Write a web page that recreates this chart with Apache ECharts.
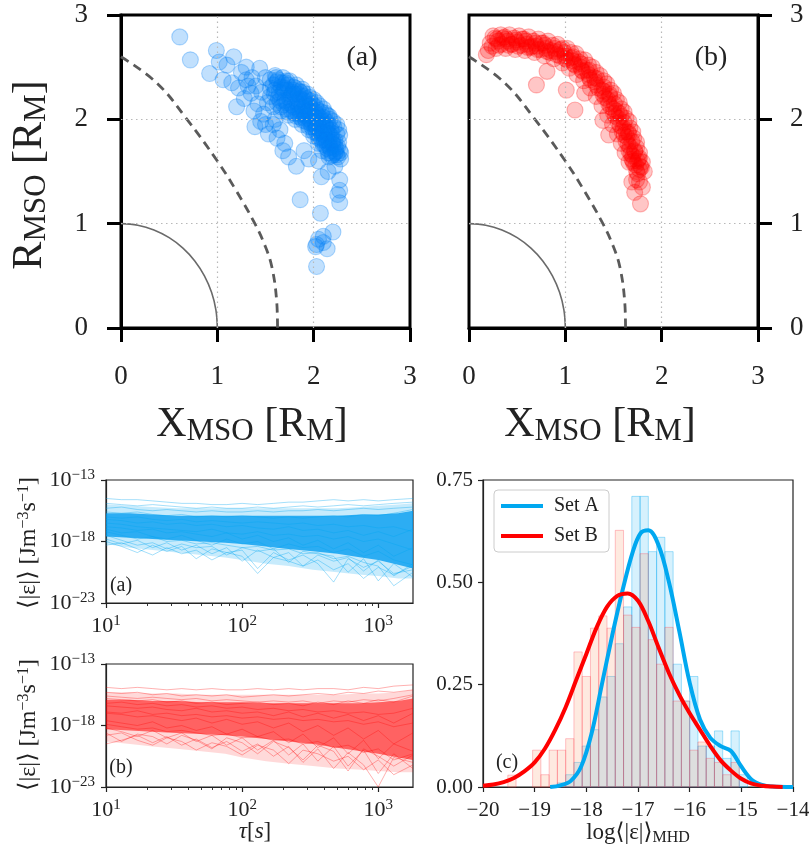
<!DOCTYPE html>
<html><head><meta charset="utf-8">
<script src="https://cdn.jsdelivr.net/npm/echarts@6/dist/echarts.min.js"></script>
<style>html,body{margin:0;padding:0;background:#fff}#c{width:809px;height:852px}</style>
</head><body><div id="c"></div>
<script>
// ---------------- DATA ----------------
// top panels: spacecraft positions (X_MSO, R_MSO)
const setA = [
[0.61,2.79],[0.72,2.57],[0.92,2.44],[0.99,2.66],[1.06,2.38],[1.17,2.60],[1.10,2.52],[1.02,2.55],
[1.25,2.45],[1.30,2.50],[1.44,2.49],[1.36,2.40],[1.20,2.12],[1.28,2.20],[1.22,2.30],[1.35,2.25],
[1.42,2.15],[1.39,1.93],[1.48,2.05],[1.53,1.86],[1.60,2.00],[1.65,1.90],[1.70,1.77],[1.74,1.64],
[1.82,1.55],[1.86,1.23],[2.08,1.45],[2.07,1.10],[2.03,0.80],[2.10,0.82],[2.14,0.76],[2.03,0.59],
[2.20,0.92],[2.27,1.20],[2.27,1.32],[2.27,1.42],[2.25,1.28],[2.22,1.55],[2.15,1.50],[2.05,1.60],
[1.95,1.62],[1.90,1.70],[1.55,2.30],[1.50,2.40],[1.15,2.35],[1.32,2.32],[2.05,0.85],[2.10,0.88],[2.02,0.78],
[1.40,2.32],[1.46,2.26],[1.52,2.16],[1.45,1.98],[1.58,1.95],[1.62,1.82],[1.68,1.70],[1.30,2.38],[1.38,2.08],[1.50,1.95],
[1.60,2.42],[1.68,2.40],[1.75,2.37],[1.82,2.33],[1.88,2.29],[1.94,2.24],[2.00,2.19],[2.06,2.13],[2.12,2.06],[2.17,2.00],[2.21,1.93],[2.24,1.86],[2.26,1.78],[2.27,1.70],[2.28,1.62],
[1.58,2.33],[1.66,2.31],[1.73,2.28],[1.80,2.24],[1.86,2.20],[1.92,2.15],[1.98,2.10],[2.04,2.04],[2.09,1.98],[2.14,1.91],[2.18,1.84],[2.20,1.76],[2.22,1.68],
[1.55,2.22],[1.63,2.21],[1.70,2.18],[1.77,2.14],[1.84,2.10],[1.90,2.05],[1.96,2.00],[2.02,1.94],[2.07,1.88],[2.11,1.80],[2.14,1.72],[2.16,1.64],
[1.58,2.12],[1.66,2.08],[1.74,2.04],[1.81,2.00],[1.88,1.95],[1.95,1.90],[2.00,1.84],[2.05,1.77],[2.09,1.70],
[1.70,2.30],[1.78,2.26],[1.85,2.27],[1.90,2.22],[1.96,2.18],[2.02,2.12],[2.08,2.07],[2.13,1.98],[2.18,1.90],[2.22,1.80],
[1.75,2.20],[1.82,2.17],[1.88,2.12],[1.94,2.08],[2.00,2.03],[2.05,1.96],[2.10,1.88],[2.16,1.78],
[1.72,2.10],[1.80,2.06],[1.86,2.02],[1.92,1.98],[1.98,1.93],[2.03,1.87],[2.08,1.80],[1.64,2.26],[1.62,2.36],[1.55,2.38],
[1.63,2.38],[1.71,2.35],[1.79,2.31],[1.86,2.26],[1.92,2.20],[1.98,2.15],[2.04,2.09],[2.10,2.02],[2.15,1.95],[2.19,1.87],[2.22,1.75],[2.24,1.66],
[1.60,2.28],[1.68,2.25],[1.76,2.22],[1.83,2.15],[1.89,2.10],[1.95,2.04],[2.01,1.98],[2.06,1.92],[2.11,1.85],[2.14,1.77],[2.18,1.70],
[1.62,2.16],[1.69,2.14],[1.77,2.08],[1.84,2.05],[1.91,2.01],[1.97,1.96],[2.02,1.90],[2.06,1.83],[2.12,1.75],[2.19,1.65],[2.25,1.74],[2.26,1.90],[2.20,1.98],[2.14,2.04],
[1.61,2.40],[1.67,2.35],[1.73,2.33],[1.79,2.28],[1.84,2.24],[1.90,2.18],[1.96,2.13],[2.02,2.07],[2.07,2.01],[2.12,1.94],[2.16,1.86],[2.20,1.80],[2.23,1.72],[2.25,1.64],
[1.59,2.25],[1.65,2.18],[1.72,2.16],[1.79,2.12],[1.86,2.07],[1.92,2.03],[1.98,1.97],[2.03,1.92],[2.08,1.86],[2.13,1.80],[2.17,1.73],[2.20,1.66],
[1.66,2.12],[1.73,2.07],[1.82,2.03],[1.89,1.99],[1.95,1.93],[2.00,1.88],[2.05,1.82],[2.10,1.76],[2.15,1.68],
[1.69,2.28],[1.77,2.24],[1.84,2.19],[1.91,2.13],[1.97,2.07],[2.03,2.01],[2.09,1.94],[2.14,1.87],[2.19,1.78],[2.23,1.69],[2.28,1.68],[2.27,1.85],[2.24,1.95],[2.16,2.03],[2.10,2.10],[2.03,2.16],[1.96,2.21],[1.89,2.26],[1.81,2.30],[1.72,2.37]
];
const setB = [
[0.25,2.80],[0.33,2.81],[0.42,2.81],[0.52,2.80],[0.62,2.79],[0.72,2.77],[0.82,2.75],[0.92,2.72],[1.02,2.68],[1.11,2.63],[1.20,2.57],[1.28,2.50],[1.36,2.42],[1.43,2.34],[1.50,2.25],[1.56,2.16],[1.61,2.07],[1.66,1.98],[1.70,1.88],[1.74,1.78],[1.77,1.68],[1.80,1.59],[1.82,1.50],
[0.27,2.78],[0.37,2.79],[0.47,2.78],[0.57,2.77],[0.67,2.75],[0.77,2.73],[0.87,2.71],[0.97,2.68],[1.06,2.64],[1.15,2.58],[1.24,2.52],[1.32,2.45],[1.40,2.37],[1.47,2.28],[1.53,2.19],[1.58,2.10],[1.63,2.01],[1.67,1.92],[1.71,1.82],[1.74,1.73],[1.77,1.63],[1.79,1.54],
[0.22,2.73],[0.30,2.75],[0.40,2.75],[0.50,2.74],[0.60,2.72],[0.70,2.70],[0.80,2.68],[0.90,2.65],[1.00,2.61],[1.08,2.56],[1.16,2.50],[1.24,2.43],[1.31,2.36],[1.38,2.28],[1.44,2.19],[1.50,2.10],[1.55,2.01],[1.60,1.92],[1.64,1.83],[1.67,1.74],[1.70,1.65],[1.73,1.56],[1.75,1.48],[1.77,1.40],
[0.24,2.70],[0.34,2.72],[0.44,2.72],[0.54,2.71],[0.64,2.69],[0.74,2.67],[0.84,2.64],[0.94,2.61],[1.02,2.57],[1.10,2.52],[1.18,2.46],[1.26,2.38],[1.34,2.30],[1.41,2.21],[1.47,2.12],[1.52,2.03],[1.57,1.94],[1.61,1.85],[1.65,1.76],[1.68,1.67],[1.71,1.58],[1.74,1.50],
[0.20,2.66],[0.28,2.68],[0.38,2.68],[0.48,2.67],[0.58,2.66],[0.68,2.64],[0.78,2.61],[0.88,2.58],[0.97,2.54],[1.04,2.49],[1.12,2.43],[1.19,2.37],[1.26,2.30],[1.32,2.22],[1.38,2.13],[1.44,2.04],[1.49,1.95],[1.54,1.86],[1.58,1.77],[1.62,1.68],[1.66,1.59],
[0.35,2.78],[0.55,2.77],[0.75,2.73],[0.95,2.67],[1.14,2.55],[1.30,2.40],[1.46,2.22],[1.58,2.03],[1.66,1.86],[1.72,1.70],[0.45,2.72],[0.65,2.70],[0.85,2.66],[1.06,2.59],[1.22,2.47],[1.40,2.27],[1.53,2.08],[1.63,1.88],[1.70,1.60],[1.78,1.55],[1.76,1.62],
[0.29,2.77],[0.39,2.77],[0.49,2.76],[0.59,2.75],[0.69,2.73],[0.79,2.71],[0.89,2.68],[0.99,2.64],[1.08,2.60],[1.17,2.53],[1.25,2.47],[1.33,2.39],[1.40,2.31],[1.46,2.24],[1.51,2.15],[1.56,2.06],[1.61,1.97],[1.65,1.88],[1.69,1.79],[1.72,1.69],[1.75,1.60],[1.77,1.52],
[0.31,2.71],[0.41,2.71],[0.51,2.70],[0.61,2.69],[0.71,2.67],[0.81,2.65],[0.91,2.62],[1.00,2.58],[1.09,2.53],[1.17,2.47],[1.25,2.40],[1.32,2.33],[1.39,2.24],[1.45,2.15],[1.50,2.06],[1.55,1.97],[1.59,1.88],[1.63,1.79],[1.66,1.70],[1.69,1.62],
[0.18,2.62],[0.70,2.33],[0.81,2.46],[1.10,2.09],[1.39,1.99],[1.78,1.19],[1.69,1.40],[1.01,2.28],[1.20,2.25],[1.45,1.85],[1.72,1.30],[1.80,1.35],[1.74,1.42]
];
const planetSurface = [[1,0],[0.985,0.174],[0.940,0.342],[0.866,0.5],[0.766,0.643],[0.643,0.766],[0.5,0.866],[0.342,0.940],[0.174,0.985],[0,1]];
const boundaryCurve = [[0,2.60],[0.37,2.35],[0.685,2.0],[1.0,1.60],[1.2,1.31],[1.39,1.0],[1.49,0.80],[1.565,0.59],[1.615,0.27],[1.625,0]];
const posTicks = [0,1,2,3];
const posGrid = [1,2];

// bottom-left: dissipation rate vs tau (values are log10 of <|eps|>)
const tauGrid = [10,13,17,22,28,36,46,60,77,100,130,170,220,280,360,470,600,780,1000,1300,1800];
const tauEnv  = [10,15,22,33,50,75,100,150,220,330,500,750,1000,1400,1800];
const tauMinor = [20,30,40,50,60,70,80,90,200,300,400,500,600,700,800,900];
const tauMajorExp = [1,2,3];
const epsMajorExp = [-23,-18,-13];
const tauMax = 1800;

const outerTopA = [-15.0,-15.1,-15.2,-15.3,-15.3,-15.3,-15.3,-15.3,-15.3,-15.3,-15.3,-15.2,-15.1,-15.0,-14.9];
const outerBotA = [-18.2,-18.5,-18.7,-18.9,-19.1,-19.3,-19.5,-19.8,-20.0,-20.3,-20.5,-20.7,-20.8,-21.0,-21.0];
const coreTopA  = [-15.7,-15.7,-15.8,-15.9,-15.9,-15.9,-15.9,-15.9,-15.9,-15.9,-15.9,-15.8,-15.8,-15.7,-15.5];
const coreBotA  = [-17.6,-17.7,-17.8,-17.9,-18.0,-18.1,-18.2,-18.4,-18.6,-18.8,-19.0,-19.3,-19.5,-19.9,-20.2];
const linesA = [
[-14.5,-14.6,-14.6,-14.7,-14.8,-14.9,-14.9,-15.0,-15.0,-14.9,-15.0,-14.9,-14.8,-14.8,-14.7,-14.6,-14.7,-14.6,-14.7,-14.6,-14.5],
[-14.9,-15.0,-15.1,-15.0,-15.1,-15.2,-15.3,-15.2,-15.3,-15.3,-15.2,-15.3,-15.2,-15.1,-15.2,-15.1,-15.0,-15.1,-15.0,-14.9,-14.8],
[-15.3,-15.2,-15.4,-15.5,-15.4,-15.5,-15.6,-15.5,-15.6,-15.6,-15.5,-15.6,-15.5,-15.5,-15.4,-15.5,-15.4,-15.3,-15.4,-15.3,-15.2],
[-16.2,-16.3,-16.5,-16.4,-16.6,-16.5,-16.7,-16.6,-16.8,-16.7,-16.9,-17.0,-16.8,-17.1,-17.0,-17.3,-17.1,-17.5,-17.2,-17.6,-17.0],
[-16.8,-16.9,-17.1,-17.0,-17.3,-17.2,-17.4,-17.6,-17.3,-17.8,-17.5,-18.0,-17.7,-18.3,-17.9,-18.6,-18.1,-18.9,-18.3,-19.2,-18.5],
[-17.8,-18.2,-17.9,-18.5,-18.1,-18.7,-18.3,-19.0,-18.5,-19.6,-18.7,-19.3,-18.9,-20.0,-19.1,-19.6,-19.3,-20.4,-19.5,-20.8,-19.8],
[-18.0,-18.4,-18.9,-18.3,-18.8,-18.4,-19.4,-18.6,-18.9,-18.7,-20.2,-18.9,-19.5,-19.1,-19.8,-21.3,-19.4,-20.1,-19.6,-20.6,-20.3],
[-17.5,-17.9,-18.3,-18.1,-18.6,-18.2,-18.5,-18.4,-19.1,-18.5,-18.8,-18.6,-19.7,-18.8,-19.0,-19.2,-20.5,-19.4,-21.2,-19.8,-20.9],
[-17.2,-17.5,-17.8,-17.6,-18.0,-17.9,-18.2,-18.1,-18.3,-18.5,-18.4,-18.7,-18.6,-19.0,-18.9,-19.4,-19.2,-19.7,-20.0,-21.6,-20.5],
[-16.5,-16.6,-16.8,-16.9,-17.0,-17.1,-17.2,-17.0,-17.3,-17.4,-17.2,-17.5,-17.4,-17.6,-17.5,-17.8,-17.6,-18.0,-17.8,-18.2,-18.7],
[-16.0,-16.1,-16.0,-16.2,-16.3,-16.2,-16.4,-16.3,-16.4,-16.5,-16.4,-16.5,-16.6,-16.5,-16.7,-16.6,-16.8,-16.7,-16.9,-16.8,-17.2],
[-15.6,-15.7,-15.6,-15.8,-15.9,-15.8,-16.0,-15.9,-16.0,-15.9,-16.0,-16.1,-16.0,-16.1,-16.0,-15.9,-16.0,-15.8,-15.9,-15.7,-15.4],
[-18.3,-18.1,-18.6,-19.1,-18.5,-19.0,-18.7,-19.5,-18.9,-19.2,-20.6,-19.3,-19.6,-20.0,-19.5,-20.3,-19.8,-21.0,-20.1,-20.7,-20.0],
[-17.0,-17.3,-17.2,-17.6,-17.8,-17.5,-17.9,-18.3,-17.8,-18.2,-18.0,-18.6,-18.2,-18.5,-18.4,-18.9,-18.6,-19.2,-18.8,-19.5,-19.9]
];
const outerTopB = [-15.3,-15.3,-15.4,-15.4,-15.5,-15.5,-15.5,-15.5,-15.5,-15.5,-15.5,-15.4,-15.4,-15.3,-15.1];
const outerBotB = [-19.3,-19.5,-19.7,-19.9,-20.1,-20.3,-20.6,-20.9,-21.1,-21.3,-21.5,-21.6,-21.7,-21.8,-21.8];
const coreTopB  = [-15.9,-15.9,-16.0,-16.0,-16.1,-16.1,-16.1,-16.2,-16.2,-16.2,-16.2,-16.2,-16.1,-16.0,-15.8];
const coreBotB  = [-18.3,-18.4,-18.5,-18.6,-18.7,-18.8,-18.9,-19.1,-19.3,-19.5,-19.8,-20.1,-20.3,-20.6,-20.8];
const linesB = [
[-14.9,-15.0,-14.9,-15.0,-15.1,-15.0,-15.1,-15.0,-15.1,-15.1,-15.0,-15.1,-15.0,-15.1,-15.0,-15.0,-15.1,-14.9,-15.0,-14.8,-14.7],
[-15.3,-15.4,-15.3,-15.5,-15.4,-15.6,-15.5,-15.6,-15.5,-15.7,-15.6,-15.5,-15.6,-15.5,-15.4,-15.5,-15.3,-15.4,-15.2,-15.3,-15.1],
[-15.8,-15.9,-16.0,-15.9,-16.1,-16.0,-16.2,-16.1,-16.3,-16.2,-16.1,-16.3,-16.2,-16.4,-16.1,-16.3,-16.0,-16.2,-15.9,-16.1,-15.6],
[-16.4,-16.5,-16.6,-16.5,-16.7,-16.8,-16.6,-16.9,-16.8,-17.0,-16.9,-17.2,-16.9,-17.3,-17.0,-17.4,-17.1,-17.6,-17.2,-17.8,-17.0],
[-17.0,-17.1,-17.3,-17.2,-17.4,-17.6,-17.4,-17.8,-17.5,-17.9,-17.7,-18.2,-17.8,-18.5,-18.0,-18.8,-18.2,-19.1,-18.4,-19.5,-18.6],
[-17.6,-17.8,-18.0,-17.7,-18.2,-18.0,-18.4,-18.1,-18.7,-18.3,-18.9,-18.5,-19.4,-18.7,-19.8,-19.0,-20.3,-19.2,-20.7,-19.5,-20.1],
[-18.2,-18.5,-18.9,-18.4,-19.0,-18.6,-19.3,-18.8,-19.6,-19.0,-20.0,-19.2,-20.4,-19.5,-20.9,-19.7,-21.3,-20.0,-21.9,-20.3,-21.5],
[-19.5,-19.2,-18.8,-19.4,-18.9,-19.6,-19.1,-19.8,-19.3,-20.1,-19.5,-20.5,-19.7,-21.0,-19.9,-21.5,-20.2,-21.2,-23.0,-20.6,-21.0],
[-18.6,-19.3,-18.7,-18.9,-19.5,-18.8,-19.2,-19.9,-19.0,-19.4,-20.3,-19.3,-19.8,-20.8,-19.6,-20.1,-21.7,-19.9,-20.5,-21.3,-20.4],
[-16.9,-17.0,-16.8,-17.1,-17.0,-17.2,-17.1,-17.3,-17.2,-17.4,-17.3,-17.5,-17.4,-17.6,-17.5,-17.7,-17.6,-17.9,-17.7,-18.1,-17.8],
[-16.2,-16.1,-16.3,-16.2,-16.4,-16.3,-16.5,-16.4,-16.6,-16.5,-16.7,-16.6,-16.8,-16.7,-16.9,-16.8,-17.0,-16.9,-17.1,-17.0,-16.6],
[-17.9,-18.1,-18.3,-18.2,-18.5,-18.4,-18.6,-18.8,-18.7,-19.0,-18.9,-19.2,-19.1,-19.5,-19.3,-19.8,-19.6,-20.2,-19.9,-20.8,-20.3],
[-18.8,-18.6,-19.2,-19.6,-19.0,-19.3,-20.0,-19.4,-19.7,-20.4,-19.6,-20.0,-21.1,-20.0,-20.3,-20.9,-20.5,-21.6,-20.8,-22.0,-21.2],
[-15.6,-15.7,-15.8,-15.7,-15.8,-15.9,-15.8,-16.0,-15.9,-16.0,-16.1,-16.0,-16.1,-16.0,-16.2,-16.0,-16.1,-15.9,-16.0,-15.8,-15.5]
];

// histogram (c)
const binEdges = [-19.52,-19.36,-19.20,-19.04,-18.88,-18.72,-18.56,-18.40,-18.24,-18.08,-17.92,-17.76,-17.60,-17.44,-17.28,-17.12,-16.96,-16.80,-16.64,-16.48,-16.32,-16.16,-16.00,-15.84,-15.68,-15.52,-15.36,-15.20,-15.04,-14.88];
const histA = [0,0,0,0,0,0,0.01,0.03,0.06,0.10,0.14,0.22,0.27,0.35,0.44,0.71,0.71,0.575,0.61,0.575,0.30,0.21,0.27,0.10,0.10,0.137,0.07,0.137,0.03];
const histB = [0.029,0,0,0.09,0.03,0.09,0.09,0.118,0.33,0.27,0.388,0.418,0.388,0.627,0.42,0.39,0.57,0.36,0.30,0.39,0.21,0.21,0.09,0.11,0.07,0.06,0.03,0.06,0];
const kdeA = [[-18.7,0],[-18.5,0.004],[-18.3,0.015],[-18.1,0.05],[-17.9,0.13],[-17.7,0.25],[-17.5,0.37],[-17.3,0.48],[-17.1,0.575],[-16.95,0.62],[-16.8,0.627],[-16.6,0.59],[-16.4,0.50],[-16.2,0.38],[-16.0,0.255],[-15.8,0.165],[-15.6,0.12],[-15.4,0.10],[-15.2,0.088],[-15.0,0.05],[-14.8,0.018],[-14.6,0.005],[-14.4,0.001],[-14.0,0]];
const kdeB = [[-20.0,0.003],[-19.8,0.006],[-19.6,0.012],[-19.4,0.022],[-19.2,0.038],[-19.0,0.06],[-18.8,0.094],[-18.6,0.14],[-18.4,0.195],[-18.2,0.26],[-18.0,0.325],[-17.8,0.39],[-17.6,0.44],[-17.4,0.467],[-17.2,0.473],[-17.0,0.455],[-16.8,0.405],[-16.6,0.34],[-16.4,0.278],[-16.2,0.225],[-16.0,0.18],[-15.8,0.14],[-15.6,0.10],[-15.4,0.065],[-15.2,0.04],[-15.0,0.02],[-14.8,0.008],[-14.6,0.003],[-14.4,0.001],[-14.2,0]];
const histXTicks = [-20,-19,-18,-17,-16,-15,-14];
const histYTicks = [0,0.25,0.5,0.75];

// ---------------- CHART ----------------
const F = "'Liberation Serif','DejaVu Serif',serif";
const chart = echarts.init(document.getElementById('c'), null, {renderer:'canvas', width:809, height:852});
const lg = Math.log10;

function posAxis(grid, position, labelMargin){
  return {type:'value', gridIndex:grid, min:0, max:3, interval:1, position:position,
    axisLine:{show:true, onZero:false, lineStyle:{color:'#000', width:3}},
    axisTick:{show:true, inside:false, length:14, customValues:posTicks, lineStyle:{color:'#000', width:3}},
    axisLabel:{show:true, customValues:posTicks, fontFamily:F, fontSize:27, color:'#222', margin:labelMargin, lineHeight:27},
    splitLine:{show:false}};
}
const gridMarks = {silent:true, symbol:'none', label:{show:false}, emphasis:{disabled:true},
  lineStyle:{color:'#b8b8b8', width:1.2, type:[1.5,3.5]},
  data: posGrid.flatMap(v=>[{xAxis:v},{yAxis:v}])};
const powRich = {b:{fontFamily:F, fontSize:22, lineHeight:24, color:'#222'}, p:{fontFamily:F, fontSize:15, lineHeight:15, verticalAlign:'top', color:'#222'}};
function tauAxis(grid){
  return {type:'value', gridIndex:grid, min:1, max:lg(tauMax), interval:1, position:'bottom',
    axisLine:{show:true, onZero:false, lineStyle:{color:'#222', width:1.2}},
    axisTick:{show:true, length:5, customValues:tauMajorExp, lineStyle:{color:'#222', width:1.2}},
    axisLabel:{show:true, customValues:tauMajorExp, margin:11, formatter:v=>'{b|10}{p|'+v+'}', rich:powRich},
    splitLine:{show:false}};
}
function tauMinorAxis(grid){
  return {type:'value', gridIndex:grid, min:1, max:lg(tauMax), position:'bottom',
    axisLine:{show:false}, axisLabel:{show:false}, splitLine:{show:false},
    axisTick:{show:true, length:3, customValues:tauMinor.map(lg), lineStyle:{color:'#222', width:0.9}}};
}
function epsAxis(grid){
  return {type:'value', gridIndex:grid, min:-23, max:-13, interval:5,
    axisLine:{show:true, onZero:false, lineStyle:{color:'#222', width:1.2}},
    axisTick:{show:true, length:5, customValues:epsMajorExp, lineStyle:{color:'#222', width:1.2}},
    axisLabel:{show:true, customValues:epsMajorExp, margin:11, formatter:v=>'{b|10}{p|\u2212'+Math.abs(v)+'}', rich:powRich},
    splitLine:{show:false}};
}
function band(xi, yi, top, bot, color){
  return {type:'custom', xAxisIndex:xi, yAxisIndex:yi, silent:true, z:1, data:[[lg(tauEnv[0]), top[0]]],
    renderItem:(params, api)=>{
      const pts=[];
      for(let i=0;i<tauEnv.length;i++) pts.push(api.coord([lg(tauEnv[i]), top[i]]));
      for(let i=tauEnv.length-1;i>=0;i--) pts.push(api.coord([lg(tauEnv[i]), bot[i]]));
      return {type:'polygon', shape:{points:pts}, style:{fill:color}};
    }};
}
function tsLines(xi, yi, lines, color){
  return lines.map(L=>({type:'line', xAxisIndex:xi, yAxisIndex:yi, silent:true, z:2, showSymbol:false, symbol:'none',
    data:tauGrid.map((t,i)=>[lg(t), L[i]]), lineStyle:{color:color, width:0.9}}));
}
function hist(heights, fill, edge){
  return {type:'custom', xAxisIndex:6, yAxisIndex:4, silent:true, z:1,
    data:heights.map((h,i)=>[binEdges[i], binEdges[i+1], h]),
    renderItem:(params, api)=>{
      const h = api.value(2); if(!h) return null;
      const p0 = api.coord([api.value(0), h]); const p1 = api.coord([api.value(1), 0]);
      return {type:'rect', shape:{x:p0[0], y:p0[1], width:p1[0]-p0[0], height:p1[1]-p0[1]}, style:{fill:fill, stroke:edge, lineWidth:1}};
    }};
}

const series = [
  {type:'line', xAxisIndex:0, yAxisIndex:0, data:planetSurface, smooth:0.4, symbol:'none', silent:true, z:2, lineStyle:{color:'#6a6a6a', width:1.6}, markLine:gridMarks},
  {type:'line', xAxisIndex:0, yAxisIndex:0, data:boundaryCurve, smooth:0.4, symbol:'none', silent:true, z:2, lineStyle:{color:'#5a5a5a', width:2.8, type:[9,6]}},
  {type:'scatter', xAxisIndex:0, yAxisIndex:0, data:setA, symbolSize:16, silent:true, z:3, itemStyle:{color:'rgba(0,128,245,0.3)', borderColor:'rgba(0,128,245,0.38)', borderWidth:1.1}},
  {type:'line', xAxisIndex:1, yAxisIndex:1, data:planetSurface, smooth:0.4, symbol:'none', silent:true, z:2, lineStyle:{color:'#6a6a6a', width:1.6}, markLine:gridMarks},
  {type:'line', xAxisIndex:1, yAxisIndex:1, data:boundaryCurve, smooth:0.4, symbol:'none', silent:true, z:2, lineStyle:{color:'#5a5a5a', width:2.8, type:[9,6]}},
  {type:'scatter', xAxisIndex:1, yAxisIndex:1, data:setB, symbolSize:16, silent:true, z:3, itemStyle:{color:'rgba(255,0,0,0.28)', borderColor:'rgba(255,0,0,0.34)', borderWidth:1.1}},
  band(2, 2, outerTopA, outerBotA, 'rgba(0,165,240,0.22)'),
  band(2, 2, coreTopA, coreBotA, 'rgba(0,155,240,0.78)'),
  ...tsLines(2, 2, linesA, 'rgba(0,165,240,0.4)'),
  band(4, 3, outerTopB, outerBotB, 'rgba(255,0,0,0.15)'),
  band(4, 3, coreTopB, coreBotB, 'rgba(255,0,0,0.55)'),
  ...tsLines(4, 3, linesB, 'rgba(255,0,0,0.35)'),
  hist(histA, 'rgba(0,170,240,0.16)', 'rgba(0,170,240,0.35)'),
  hist(histB, 'rgba(250,150,100,0.2)', 'rgba(255,60,80,0.3)'),
  {name:'Set A', type:'line', xAxisIndex:6, yAxisIndex:4, data:kdeA, smooth:0.35, symbol:'none', silent:true, z:4, lineStyle:{color:'#00a8f0', width:4}, itemStyle:{color:'#00a8f0'}},
  {name:'Set B', type:'line', xAxisIndex:6, yAxisIndex:4, data:kdeB, smooth:0.35, symbol:'none', silent:true, z:4, lineStyle:{color:'#ff0000', width:4}, itemStyle:{color:'#ff0000'}}
];

const gridBox = (l,t,w,h,bw,bc)=>({left:l, top:t, width:w, height:h, show:true, borderColor:bc, borderWidth:bw, containLabel:false, outerBoundsMode:'none'});
const sub = {fontFamily:F, fontSize:31, lineHeight:31, verticalAlign:'bottom', fill:'#222'};

const option = {
  animation:false,
  backgroundColor:'#fff',
  grid:[
    gridBox(121,15,289,313,3,'#000'),
    gridBox(469,15,289,313,3,'#000'),
    gridBox(106,480,307,123,1.2,'#222'),
    gridBox(106,664,307,123,1.2,'#222'),
    gridBox(483,480,310,307,1.2,'#222')
  ],
  xAxis:[
    posAxis(0,'bottom',35),
    posAxis(1,'bottom',35),
    tauAxis(2), tauMinorAxis(2),
    tauAxis(3), tauMinorAxis(3),
    {type:'value', gridIndex:4, min:-20, max:-14, interval:1, position:'bottom',
      axisLine:{show:true, onZero:false, lineStyle:{color:'#222', width:1.2}},
      axisTick:{show:true, length:5, customValues:histXTicks, lineStyle:{color:'#222', width:1.2}},
      axisLabel:{show:true, customValues:histXTicks, margin:11, fontFamily:F, fontSize:21, lineHeight:24, color:'#222', formatter:v=> v<0 ? '\u2212'+(-v) : String(v)},
      splitLine:{show:false}}
  ],
  yAxis:[
    posAxis(0,'left',33),
    posAxis(1,'right',32),
    epsAxis(2),
    epsAxis(3),
    {type:'value', gridIndex:4, min:0, max:0.75, interval:0.25,
      axisLine:{show:true, onZero:false, lineStyle:{color:'#222', width:1.2}},
      axisTick:{show:true, length:5, customValues:histYTicks, lineStyle:{color:'#222', width:1.2}},
      axisLabel:{show:true, customValues:histYTicks, margin:10, fontFamily:F, fontSize:21, color:'#222', formatter:v=>v.toFixed(2)},
      splitLine:{show:false}}
  ],
  legend:{data:[{name:'Set A', icon:'rect'},{name:'Set B', icon:'rect'}], orient:'vertical', left:494, top:490,
    itemWidth:42, itemHeight:4, itemGap:10, padding:[6,10,6,7], backgroundColor:'rgba(255,255,255,0.85)',
    borderColor:'#cccccc', borderWidth:1, borderRadius:4, selectedMode:false,
    textStyle:{fontFamily:F, fontSize:20, color:'#222', padding:[0,0,0,6]}},
  graphic:[
    {type:'text', x:30, y:175, rotation:Math.PI/2, style:{text:'R{s|MSO} [R{s|M}]', fontFamily:F, fontSize:42, lineHeight:44, fill:'#222', align:'center', verticalAlign:'middle', rich:{s:sub}}},
    {type:'text', x:252, y:425, style:{text:'X{s|MSO} [R{s|M}]', fontFamily:F, fontSize:42, lineHeight:44, fill:'#222', align:'center', verticalAlign:'middle', rich:{s:sub}}},
    {type:'text', x:600, y:425, style:{text:'X{s|MSO} [R{s|M}]', fontFamily:F, fontSize:42, lineHeight:44, fill:'#222', align:'center', verticalAlign:'middle', rich:{s:sub}}},
    {type:'text', x:362, y:58, style:{text:'(a)', fontFamily:F, fontSize:28, fill:'#222', align:'center', verticalAlign:'middle'}},
    {type:'text', x:711, y:58, style:{text:'(b)', fontFamily:F, fontSize:28, fill:'#222', align:'center', verticalAlign:'middle'}},
    {type:'text', x:29, y:543, rotation:Math.PI/2, style:{text:'\u27e8|\u03b5|\u27e9 [Jm{p|\u22123}s{p|\u22121}]', fontFamily:F, fontSize:24, lineHeight:26, fill:'#222', align:'center', verticalAlign:'middle',
      rich:{p:{fontFamily:F, fontSize:16, lineHeight:16, verticalAlign:'top', fill:'#222'}}}},
    {type:'text', x:29, y:725, rotation:Math.PI/2, style:{text:'\u27e8|\u03b5|\u27e9 [Jm{p|\u22123}s{p|\u22121}]', fontFamily:F, fontSize:24, lineHeight:26, fill:'#222', align:'center', verticalAlign:'middle',
      rich:{p:{fontFamily:F, fontSize:16, lineHeight:16, verticalAlign:'top', fill:'#222'}}}},
    {type:'text', x:121, y:586, style:{text:'(a)', fontFamily:F, fontSize:20, fill:'#222', align:'center', verticalAlign:'middle'}},
    {type:'text', x:121, y:768, style:{text:'(b)', fontFamily:F, fontSize:20, fill:'#222', align:'center', verticalAlign:'middle'}},
    {type:'text', x:255, y:832, style:{text:'{i|\u03c4}[{i|s}]', fontFamily:F, fontSize:23, fill:'#222', align:'center', verticalAlign:'middle',
      rich:{i:{fontFamily:F, fontSize:23, fontStyle:'italic', fill:'#222'}}}},
    {type:'text', x:507, y:763, style:{text:'(c)', fontFamily:F, fontSize:20, fill:'#222', align:'center', verticalAlign:'middle'}},
    {type:'text', x:638, y:833, style:{text:'log\u27e8|\u03b5|\u27e9{s|MHD}', fontFamily:F, fontSize:23, lineHeight:26, fill:'#222', align:'center', verticalAlign:'middle',
      rich:{s:{fontFamily:F, fontSize:16, lineHeight:16, verticalAlign:'bottom', fill:'#222'}}}}
  ],
  series: series
};
chart.setOption(option);
</script></body></html>
